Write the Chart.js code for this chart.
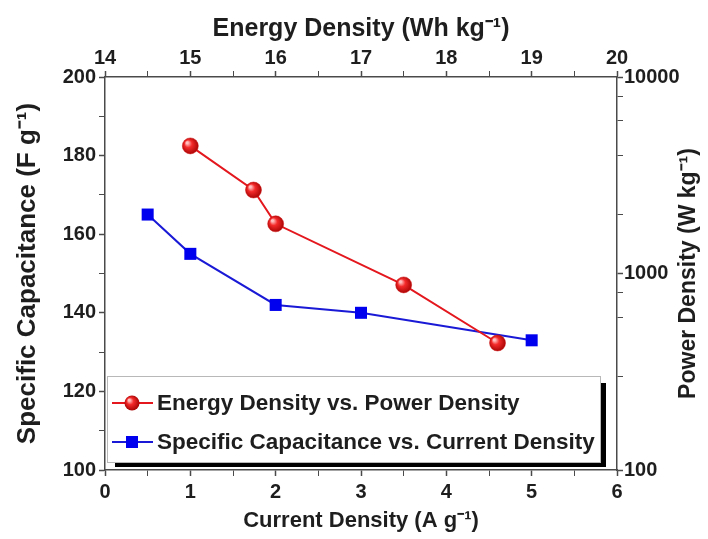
<!DOCTYPE html>
<html>
<head>
<meta charset="utf-8">
<script src="https://cdn.jsdelivr.net/npm/chart.js@4.4.0/dist/chart.umd.min.js"></script>
<style>
  html, body { margin: 0; padding: 0; background: #fff; }
  #wrap { width: 708px; height: 539px; }
</style>
</head>
<body>
<div id="wrap"><canvas id="chart"></canvas></div>
<script>
// Specific capacitance vs current density (bottom / left axes)
const currentDensity = [0.5, 1, 2, 3, 5];
const capacitance = [165, 155, 142, 140, 133];

// Energy density vs power density (top / right axes)
const energyDensity = [15, 15.74, 16, 17.5, 18.6];
const powerDensity = [4460, 2660, 1790, 875, 443];

const redLabel = 'Energy Density vs. Power Density';
const blueLabel = 'Specific Capacitance vs. Current Density';
const rightTitle = 'Power Density (W kg⁻¹)';

const FONT = '"Liberation Sans", Arial, sans-serif';
const AXIS = '#4a4a4a';
const TEXT = '#1e1e1e';
const RED = '#e3171d';
const BLUE = '#1a1ad6';

function redBall(c, x, y, r) {
  const g = c.createRadialGradient(x - r * 0.4, y - r * 0.4, 1, x, y, r + 1);
  g.addColorStop(0, '#ffc0c0');
  g.addColorStop(0.35, '#f42a2a');
  g.addColorStop(1, '#a00000');
  return g;
}

// sphere-looking fill for the red circles
function sphereFill(context) {
  const chart = context.chart;
  const sx = chart.scales.x2, sy = chart.scales.y2;
  const raw = context.raw;
  if (!sx || !sy || !raw) return RED;
  const px = sx.getPixelForValue(raw.x), py = sy.getPixelForValue(raw.y);
  if (!isFinite(px) || !isFinite(py)) return RED;
  return redBall(chart.ctx, px, py, 8);
}

// major ticks darker, minor ones thinner
const tickW = ctx => (ctx.tick && ctx.tick.label !== '' ? 1.5 : 1);

// right axis title (reads bottom to top) and the framed legend with a drop shadow
const extras = {
  id: 'extras',
  afterDraw(chart) {
    const c = chart.ctx;
    const a = chart.chartArea;
    c.save();
    c.fillStyle = TEXT;
    c.font = 'bold 23px ' + FONT;
    c.textAlign = 'center';
    c.textBaseline = 'middle';
    c.translate(689, (a.top + a.bottom) / 2);
    c.rotate(-Math.PI / 2);
    c.fillText(rightTitle, 0, 0);
    c.restore();

    c.save();
    const lx = a.left + 2, ly = a.top + 299, lw = 493, lh = 86;
    c.fillStyle = '#000';
    c.fillRect(lx + lw, ly + 7, 6, lh - 2);
    c.fillRect(lx + 8, ly + lh, lw - 2, 5);
    c.fillStyle = '#fff';
    c.fillRect(lx, ly, lw, lh);
    c.strokeStyle = '#b8b8b8';
    c.lineWidth = 1;
    c.strokeRect(lx + 0.5, ly + 0.5, lw, lh);
    const rows = [
      { label: redLabel, color: RED, y: ly + 27, shape: 'circle' },
      { label: blueLabel, color: BLUE, y: ly + 66, shape: 'square' }
    ];
    rows.forEach(r => {
      c.strokeStyle = r.color;
      c.lineWidth = 2;
      c.beginPath();
      c.moveTo(lx + 5, r.y);
      c.lineTo(lx + 46, r.y);
      c.stroke();
      const mx = lx + 25;
      if (r.shape === 'circle') {
        c.fillStyle = redBall(c, mx, r.y, 7);
        c.beginPath();
        c.arc(mx, r.y, 7.5, 0, Math.PI * 2);
        c.fill();
      } else {
        c.fillStyle = '#0000ee';
        c.fillRect(mx - 6, r.y - 6, 12, 12);
      }
      c.fillStyle = TEXT;
      c.font = 'bold 22.5px ' + FONT;
      c.textBaseline = 'middle';
      c.textAlign = 'left';
      c.fillText(r.label, lx + 50, r.y + 1);
    });
    c.restore();
  }
};

const tickFont = { family: FONT, size: 20, weight: 'bold' };

new Chart(document.getElementById('chart'), {
  type: 'scatter',
  data: {
    datasets: [
      {
        label: redLabel,
        data: energyDensity.map((x, i) => ({ x: x, y: powerDensity[i] })),
        xAxisID: 'x2',
        yAxisID: 'y2',
        showLine: true,
        borderColor: RED,
        borderWidth: 2,
        pointRadius: 8,
        pointHoverRadius: 8,
        pointStyle: 'circle',
        pointBackgroundColor: sphereFill,
        pointBorderColor: '#d01010',
        pointBorderWidth: 0.5
      },
      {
        label: blueLabel,
        data: currentDensity.map((x, i) => ({ x: x, y: capacitance[i] })),
        xAxisID: 'x',
        yAxisID: 'y',
        showLine: true,
        borderColor: BLUE,
        borderWidth: 2,
        pointRadius: 8.5,
        pointHoverRadius: 8.5,
        pointStyle: 'rect',
        pointBackgroundColor: '#0000ee',
        pointBorderColor: '#0000ee',
        pointBorderWidth: 0
      }
    ]
  },
  options: {
    responsive: true,
    maintainAspectRatio: false,
    animation: false,
    layout: { padding: 0 },
    plugins: { legend: { display: false }, tooltip: { enabled: false } },
    scales: {
      x: {
        type: 'linear', position: 'bottom', min: 0, max: 6,
        afterFit: s => { s.height = 69; },
        border: { color: AXIS, width: 1.5 },
        grid: { drawOnChartArea: false, tickLength: 6, color: AXIS, tickWidth: tickW },
        ticks: {
          stepSize: 0.5, color: TEXT, font: tickFont, padding: 4, maxRotation: 0,
          callback: v => Number.isInteger(v) ? v : ''
        },
        title: { display: true, text: 'Current Density (A g⁻¹)', color: TEXT,
          font: { family: FONT, size: 22, weight: 'bold' }, padding: 5 }
      },
      x2: {
        type: 'linear', position: 'top', min: 14, max: 20,
        afterFit: s => { s.height = 77; },
        border: { color: AXIS, width: 1.5 },
        grid: { drawOnChartArea: false, tickLength: 6, color: AXIS, tickWidth: tickW },
        ticks: {
          stepSize: 0.5, color: TEXT, font: tickFont, padding: 1, maxRotation: 0,
          callback: v => Number.isInteger(v) ? v : ''
        },
        title: { display: true, text: 'Energy Density (Wh kg⁻¹)', color: TEXT,
          font: { family: FONT, size: 25, weight: 'bold' }, padding: 14 }
      },
      y: {
        type: 'linear', position: 'left', min: 100, max: 200,
        afterFit: s => { s.width = 105; },
        border: { color: AXIS, width: 1.5 },
        grid: { drawOnChartArea: false, tickLength: 6, color: AXIS, tickWidth: tickW },
        ticks: {
          stepSize: 10, color: TEXT, font: tickFont, padding: 3,
          callback: v => v % 20 === 0 ? v : ''
        },
        title: { display: true, text: 'Specific Capacitance (F g⁻¹)', color: TEXT,
          font: { family: FONT, size: 26, weight: 'bold' }, padding: 12 }
      },
      y2: {
        type: 'logarithmic', position: 'right', min: 100, max: 10000,
        afterFit: s => { s.width = 91; },
        border: { color: AXIS, width: 1.5 },
        grid: { drawOnChartArea: false, tickLength: 6, color: AXIS, tickWidth: tickW },
        ticks: {
          color: TEXT, font: tickFont, padding: 1,
          callback: v => [100, 1000, 10000].includes(v) ? String(v) : ''
        },
        title: { display: false }
      }
    }
  },
  plugins: [extras]
});
</script>
</body>
</html>
